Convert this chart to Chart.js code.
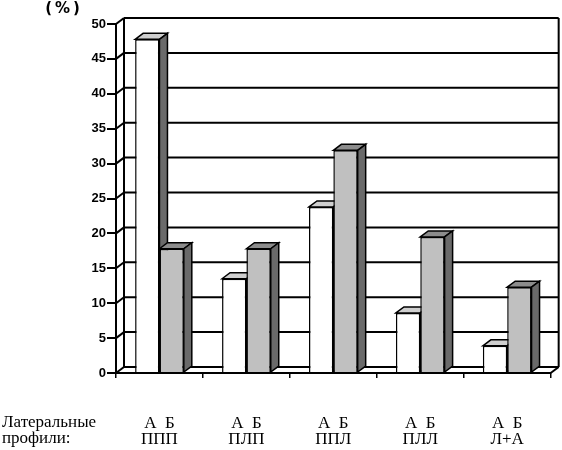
<!DOCTYPE html>
<html>
<head>
<meta charset="utf-8">
<script src="https://cdn.jsdelivr.net/npm/chart.js@4"></script>
<style>
html,body{margin:0;padding:0;background:#fff;}
#wrap{width:562px;height:450px;position:relative;}
</style>
</head>
<body>
<div id="wrap"><canvas id="c"></canvas></div>
<script>
// ---- data ----
const groupNames = ['ППП', 'ПЛП', 'ППЛ', 'ПЛЛ', 'Л+А'];
const seriesNames = ['А', 'Б'];
const valuesA = [47.8, 13.5, 23.8, 8.6, 3.9];
const valuesB = [17.8, 17.8, 31.9, 19.5, 12.3];
const yTicks = [0, 5, 10, 15, 20, 25, 30, 35, 40, 45, 50];
const unitLabel = '(%)';
const rowTitle = ['Латеральные', 'профили:'];

// ---- style ----
const DX = 8, DY = 6;
const topColors = ['#cfcfcf', '#8c8c8c'];
const sideColor = '#6a6a6a';

function seg(ctx, x1, y1, x2, y2) {
  ctx.beginPath(); ctx.moveTo(x1, y1); ctx.lineTo(x2, y2); ctx.stroke();
}

function drawFaces(chart, di) {
  const ctx = chart.ctx;
  const meta = chart.getDatasetMeta(di);
  ctx.save();
  ctx.strokeStyle = '#000';
  ctx.lineWidth = 1.5;
  meta.data.forEach(bar => {
    const p = bar.getProps(['x', 'y', 'base', 'width'], true);
    const l = p.x - p.width / 2, r = p.x + p.width / 2, t = p.y, b = p.base;
    ctx.beginPath();
    ctx.moveTo(l, t); ctx.lineTo(l + DX, t - DY); ctx.lineTo(r + DX, t - DY); ctx.lineTo(r, t); ctx.closePath();
    ctx.fillStyle = topColors[di]; ctx.fill(); ctx.stroke();
    ctx.beginPath();
    ctx.moveTo(r, t); ctx.lineTo(r + DX, t - DY); ctx.lineTo(r + DX, b - DY); ctx.lineTo(r, b); ctx.closePath();
    ctx.fillStyle = sideColor; ctx.fill(); ctx.stroke();
  });
  ctx.restore();
}

const threeD = {
  id: 'threeD',
  beforeDatasetsDraw(chart) {
    const ctx = chart.ctx;
    const {left, right, top, bottom} = chart.chartArea;
    const y = chart.scales.y;
    const yTop = y.getPixelForValue(yTicks[yTicks.length - 1]);
    ctx.save();
    ctx.strokeStyle = '#000';
    ctx.lineWidth = 2;
    yTicks.forEach(v => {
      const py = y.getPixelForValue(v);
      seg(ctx, left, py, left + DX, py - DY);
      seg(ctx, left + DX, py - DY, right + DX, py - DY);
    });
    seg(ctx, left + DX, yTop - DY, left + DX, bottom - DY);
    seg(ctx, right + DX, yTop - DY, right + DX, bottom - DY);
    seg(ctx, right, bottom, right + DX, bottom - DY);
    ctx.restore();
    // faces of the first series are drawn before the second series covers them
    drawFaces(chart, 0);
  },
  afterDatasetDraw(chart, args) {
    if (args.index === 1) drawFaces(chart, 1);
  },
  afterDraw(chart) {
    const ctx = chart.ctx;
    ctx.save();
    ctx.fillStyle = '#000';
    ctx.font = 'bold 15px "DejaVu Sans"';
    ctx.letterSpacing = '3px';
    ctx.textAlign = 'center';
    ctx.textBaseline = 'middle';
    ctx.fillText(unitLabel, 64, 9);
    ctx.letterSpacing = '0px';
    ctx.font = '17px "Liberation Serif"';
    ctx.textAlign = 'left';
    ctx.textBaseline = 'alphabetic';
    ctx.fillText(rowTitle[0], 2, 427);
    ctx.fillText(rowTitle[1], 2, 443);
    ctx.restore();
  }
};

const labels = groupNames.map(g => [seriesNames.join('  '), g]);

new Chart(document.getElementById('c'), {
  type: 'bar',
  data: {
    labels: labels,
    datasets: [
      {label: seriesNames[0], data: valuesA, backgroundColor: '#ffffff', borderColor: '#000', borderWidth: 1.5,
       categoryPercentage: 0.56, barPercentage: 1.0},
      {label: seriesNames[1], data: valuesB, backgroundColor: '#c0c0c0', borderColor: '#000', borderWidth: 1.5,
       categoryPercentage: 0.56, barPercentage: 1.0}
    ]
  },
  options: {
    responsive: true,
    maintainAspectRatio: false,
    animation: false,
    layout: {padding: {left: 0, right: 11, top: 24, bottom: 0}},
    plugins: {legend: {display: false}, tooltip: {enabled: false}},
    scales: {
      x: {
        offset: true,
        grid: {display: true, drawOnChartArea: false, drawTicks: true, tickLength: 5, color: '#000', lineWidth: 1.5, offset: true},
        border: {display: true, color: '#000', width: 2},
        ticks: {color: '#000', font: {family: '"Liberation Serif"', size: 17, lineHeight: 0.95}, padding: 37, maxRotation: 0, autoSkip: false},
        afterFit(scale) { scale.height = 77; }
      },
      y: {
        min: 0, max: 50,
        afterBuildTicks(scale) { scale.ticks = yTicks.map(v => ({value: v})); },
        grid: {display: true, drawOnChartArea: false, drawTicks: true, tickLength: 9, color: '#000', lineWidth: 2},
        border: {display: true, color: '#000', width: 2},
        ticks: {color: '#000', font: {family: '"Liberation Sans"', size: 13, weight: 'bold'}, padding: 1},
        afterFit(scale) { scale.width = 116; }
      }
    }
  },
  plugins: [threeD]
});
</script>
</body>
</html>
